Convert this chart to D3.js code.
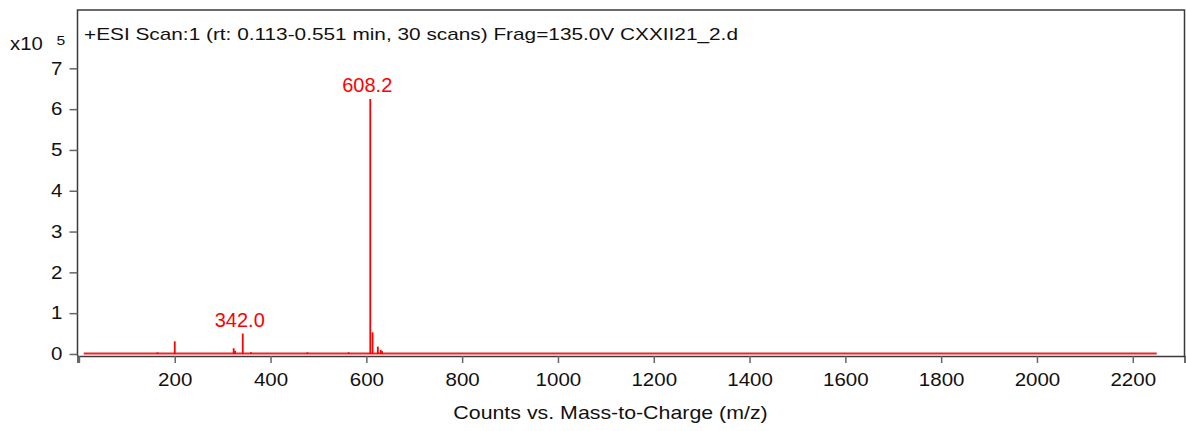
<!DOCTYPE html>
<html>
<head>
<meta charset="utf-8">
<script src="https://cdn.jsdelivr.net/npm/d3@7"></script>
<style>
  html, body { margin: 0; padding: 0; background: #fff; }
  svg { display: block; font-family: Arial, "Liberation Sans", sans-serif; }
</style>
</head>
<body>
<svg id="chart" width="1186" height="431"></svg>
<script>
// ---- data (intensity in units of 10^5 counts) ----
const peakMz        = [164, 200, 323, 326, 342.0, 359, 477, 563, 608.2, 613, 624, 630, 633];
const peakIntensity = [0.04, 0.31, 0.14, 0.08, 0.50, 0.04, 0.04, 0.04, 6.25, 0.53, 0.18, 0.10, 0.07];
const labeledPeaks  = [342.0, 608.2];
const labeledValues = [0.50, 6.25];
const scanRange     = [10, 2250];
const xTicks        = [0, 200, 400, 600, 800, 1000, 1200, 1400, 1600, 1800, 2000, 2200];
const yTicks        = [0, 1, 2, 3, 4, 5, 6, 7];
const titleText     = "+ESI Scan:1 (rt: 0.113-0.551 min, 30 scans) Frag=135.0V CXXII21_2.d";
const xAxisTitle    = "Counts vs. Mass-to-Charge (m/z)";

const svg = d3.select("#chart");
const mLeft = 77.5, mRight = 1184.5, mTop = 10, mBottom = 356;
const SX = 1.16; // horizontal stretch of the lettering in the reference

const x = d3.scaleLinear().domain([-3, 2308]).range([mLeft, mRight]);
const y = d3.scaleLinear().domain([-0.05, 8.43]).range([mBottom, mTop]);

const axisColor = "#3a3a3a";
const textColor = "#111";

function stretchedText(px, py, size, anchor, str, sx) {
  return svg.append("text")
    .attr("transform", `translate(${px},${py}) scale(${sx || SX},1)`)
    .attr("text-anchor", anchor)
    .attr("font-size", size)
    .attr("fill", textColor)
    .text(str);
}

// spectrum baseline
svg.append("line")
  .attr("x1", x(scanRange[0])).attr("x2", x(scanRange[1]))
  .attr("y1", y(0.01)).attr("y2", y(0.01))
  .attr("stroke", "#e8252a").attr("stroke-width", 2);

// peaks as sticks
svg.append("g").selectAll("line")
  .data(peakMz.map((m, i) => ({ m, v: peakIntensity[i] })))
  .join("line")
  .attr("x1", d => x(d.m)).attr("x2", d => x(d.m))
  .attr("y1", y(0)).attr("y2", d => y(d.v))
  .attr("stroke", "#ff0000").attr("stroke-width", 1.8);

// peak labels
svg.append("g").selectAll("text")
  .data(labeledPeaks.map((m, i) => ({ m, v: labeledValues[i] })))
  .join("text")
  .attr("x", d => x(d.m) - 3)
  .attr("y", d => y(d.v) - 7)
  .attr("text-anchor", "middle")
  .attr("font-size", 20)
  .attr("fill", "#ff0000")
  .text(d => d.m.toFixed(1));

// frame (top/right)
svg.append("path")
  .attr("d", `M${mLeft},${mBottom} V${mTop} H${mRight} V${mBottom}`)
  .attr("fill", "none").attr("stroke", axisColor).attr("stroke-width", 1.5);

// x axis
const xAxis = d3.axisBottom(x).tickValues(xTicks).tickSize(7).tickPadding(10)
  .tickFormat(d => d === 0 ? "" : d);
const gx = svg.append("g").attr("transform", `translate(0,${mBottom})`).call(xAxis);
gx.select(".domain").attr("stroke", axisColor).attr("stroke-width", 1.5);
gx.selectAll(".tick line").attr("stroke", "#666").attr("stroke-width", 1.5);
gx.selectAll(".tick text").attr("font-size", 17.7).attr("fill", textColor)
  .attr("font-family", "Arial, 'Liberation Sans', sans-serif")
  .attr("transform", `scale(${SX},1)`);

// y axis
const yAxis = d3.axisLeft(y).tickValues(yTicks).tickSize(8).tickPadding(5);
const gy = svg.append("g").attr("transform", `translate(${mLeft},0)`).call(yAxis);
gy.select(".domain").remove();
gy.selectAll(".tick line").attr("stroke", "#666").attr("stroke-width", 1.5);
gy.selectAll(".tick text").attr("font-size", 17.7).attr("fill", textColor)
  .attr("font-family", "Arial, 'Liberation Sans', sans-serif")
  .attr("x", -13).attr("transform", `scale(${SX},1)`);

// exponent label
stretchedText(10, 50, 17.5, "start", "x10");
stretchedText(56.5, 44.5, 13.5, "start", "5");

// title inside plot
stretchedText(84, 40, 17.2, "start", titleText, 1.21);

// x axis title
stretchedText(610.5, 419, 17.5, "middle", xAxisTitle, 1.22);
</script>
</body>
</html>
